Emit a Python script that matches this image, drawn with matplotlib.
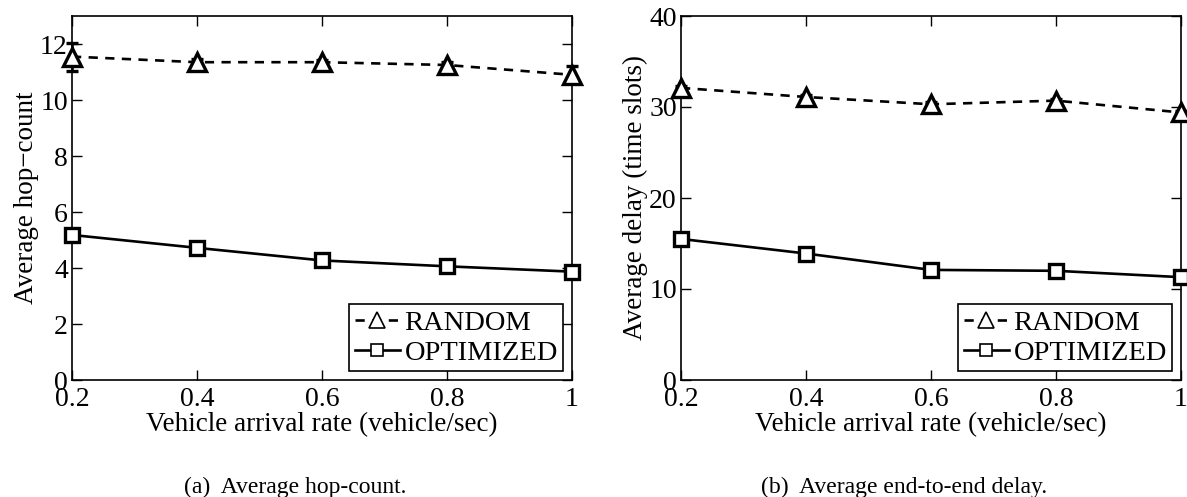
import matplotlib
matplotlib.use("Agg")
import matplotlib.pyplot as plt
from matplotlib.lines import Line2D
from matplotlib.ticker import FixedLocator, FixedFormatter

plt.rcParams['font.family'] = ['Liberation Serif', 'DejaVu Serif']

# Vehicle arrival rate (vehicle/sec)
arrival_rate = [0.2, 0.4, 0.6, 0.8, 1.0]
x_tick_labels = ['0.2', '0.4', '0.6', '0.8', '1']

# (a) average hop-count
hop_random = [11.55, 11.35, 11.35, 11.25, 10.9]
hop_random_err = [0.5, 0.1, 0.08, 0.1, 0.3]
hop_optimized = [5.18, 4.72, 4.27, 4.06, 3.87]
hop_optimized_err = [0.05, 0.05, 0.05, 0.05, 0.05]

# (b) average end-to-end delay (time slots)
delay_random = [32.1, 31.1, 30.3, 30.7, 29.4]
delay_random_err = [0.2, 0.2, 0.2, 0.2, 0.2]
delay_optimized = [15.5, 13.9, 12.1, 12.0, 11.3]
delay_optimized_err = [0.1, 0.1, 0.1, 0.1, 0.1]

hop_yticks = [0, 2, 4, 6, 8, 10, 12]
delay_yticks = [0, 10, 20, 30, 40]

W, H = 1187, 497
fig = plt.figure(figsize=(W / 100, H / 100), dpi=100)


def px_axes(x0, x1, y0, y1):
    return fig.add_axes([x0 / W, 1 - y1 / H, (x1 - x0) / W, (y1 - y0) / H])


ax_a = px_axes(72, 572, 16, 380)
ax_b = px_axes(681, 1181, 16, 380)

LW = 1.9
DASH = (3.5, 2.8)
FS_TICK = 20
FS_LABEL = 19.5


def draw_panel(ax, rnd, rnd_err, opt, opt_err, ymax, yticks, ylabel):
    ax.errorbar(arrival_rate, rnd, yerr=rnd_err, color='black', lw=LW,
                dashes=DASH, marker='^', markersize=13, mfc='white',
                mec='black', mew=2.4, capsize=4, elinewidth=LW,
                capthick=LW, clip_on=False, zorder=3)
    ax.errorbar(arrival_rate, opt, yerr=opt_err, color='black', lw=LW,
                ls='-', marker='s', markersize=10, mfc='white',
                mec='black', mew=2.4, capsize=4, elinewidth=LW,
                capthick=LW, clip_on=False, zorder=3)
    ax.set_xlim(0.2, 1.0)
    ax.set_ylim(0, ymax)
    ax.xaxis.set_major_locator(FixedLocator(arrival_rate))
    ax.xaxis.set_major_formatter(FixedFormatter(x_tick_labels))
    ax.set_yticks(yticks)
    ax.tick_params(direction='in', length=7, width=1.0, top=True,
                   right=True, labelsize=FS_TICK)
    ax.tick_params(axis='x', pad=5)
    ax.tick_params(axis='y', pad=3)
    for sp in ax.spines.values():
        sp.set_linewidth(1.2)
    ax.set_xlabel('Vehicle arrival rate (vehicle/sec)', fontsize=FS_LABEL,
                  labelpad=0)
    ax.set_ylabel(ylabel, fontsize=FS_LABEL, labelpad=1)

    handles = [
        Line2D([], [], color='black', lw=LW, dashes=DASH, marker='^',
               markersize=11, mfc='white', mec='black', mew=1.2),
        Line2D([], [], color='black', lw=LW, ls='-', marker='s',
               markersize=9, mfc='white', mec='black', mew=1.2),
    ]
    leg = ax.legend(handles, ['RANDOM', 'OPTIMIZED'], loc='lower right',
                    fontsize=20.5, frameon=True, fancybox=False,
                    edgecolor='black', framealpha=1, handlelength=1.6,
                    handletextpad=0.15, borderpad=0.2, labelspacing=0.15,
                    borderaxespad=0.3)
    leg.get_frame().set_linewidth(1.2)


draw_panel(ax_a, hop_random, hop_random_err, hop_optimized,
           hop_optimized_err, 13, hop_yticks, 'Average hop\u2212count')
draw_panel(ax_b, delay_random, delay_random_err, delay_optimized,
           delay_optimized_err, 40, delay_yticks, 'Average delay (time slots)')

fig.text(295 / W, 1 - 487 / H, '(a)  Average hop-count.', fontsize=17,
         ha='center', va='center')
fig.text(904 / W, 1 - 487 / H, '(b)  Average end-to-end delay.', fontsize=17,
         ha='center', va='center')

fig.savefig('out.png', dpi=100)
